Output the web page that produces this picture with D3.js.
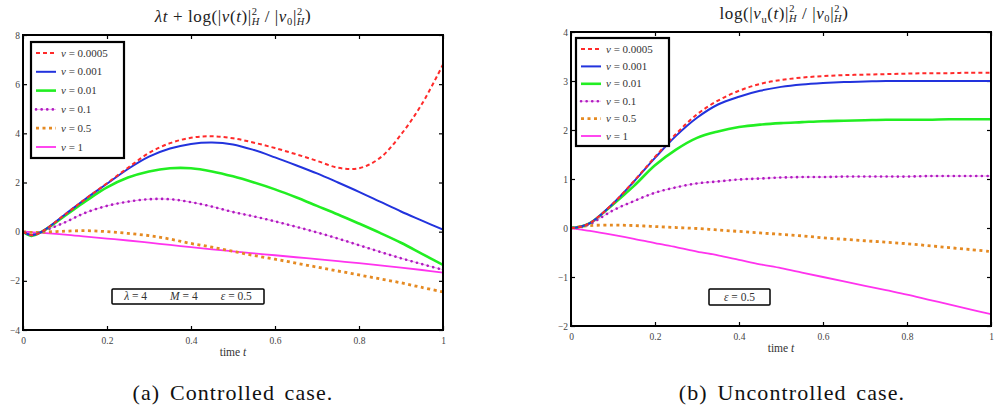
<!DOCTYPE html>
<meta charset="utf-8">
<style>
  body { margin:0; background:#fff; }
  text { font-family: "Liberation Serif", "DejaVu Serif", "Times New Roman", serif !important; }
  .tick text { fill:#444; font-size:9.5px; }
  .frame { fill:none; stroke:#000; stroke-width:2px; }
</style>
<script src="https://d3js.org/d3.v7.min.js"></script>
<svg id="chart" width="1000" height="419"></svg>
<script>
// sample times shared by all curves
var tGrid = [0, 0.02, 0.045, 0.1, 0.15, 0.2, 0.25, 0.3, 0.35, 0.4, 0.45, 0.5, 0.55, 0.6, 0.65, 0.7, 0.75, 0.8, 0.85, 0.9, 0.95, 1];

var nuLabels = ["0.0005", "0.001", "0.01", "0.1", "0.5", "1"];

// (a) controlled case
var ctrl_0005 = [0, -0.15, 0, 0.7, 1.35, 1.97, 2.6, 3.2, 3.6, 3.82, 3.88, 3.8, 3.62, 3.4, 3.15, 2.88, 2.6, 2.58, 3.0, 3.95, 5.2, 6.8];
var ctrl_001  = [0, -0.15, 0, 0.7, 1.35, 1.95, 2.55, 3.05, 3.38, 3.57, 3.63, 3.55, 3.32, 3.02, 2.7, 2.37, 2.0, 1.62, 1.22, 0.82, 0.45, 0.08];
var ctrl_01   = [0, -0.17, 0, 0.65, 1.25, 1.8, 2.2, 2.45, 2.58, 2.58, 2.45, 2.25, 2.0, 1.72, 1.4, 1.05, 0.7, 0.33, -0.05, -0.45, -0.9, -1.35];
var ctrl_1    = [0, -0.12, 0, 0.38, 0.78, 1.05, 1.22, 1.32, 1.32, 1.2, 1.02, 0.8, 0.62, 0.42, 0.2, -0.03, -0.28, -0.55, -0.82, -1.08, -1.32, -1.55];
var ctrl_5    = [0, -0.03, -0.02, 0.02, 0.04, 0.0, -0.07, -0.16, -0.3, -0.48, -0.63, -0.8, -0.97, -1.12, -1.28, -1.44, -1.6, -1.76, -1.92, -2.08, -2.27, -2.45];
var ctrl_10   = [0, -0.02, -0.05, -0.12, -0.2, -0.28, -0.36, -0.45, -0.54, -0.63, -0.72, -0.8, -0.88, -0.96, -1.04, -1.12, -1.2, -1.28, -1.37, -1.46, -1.56, -1.67];

// (b) uncontrolled case
var unc_0005 = [0, 0.02, 0.1, 0.5, 0.96, 1.45, 1.92, 2.32, 2.6, 2.8, 2.94, 3.02, 3.07, 3.1, 3.12, 3.13, 3.14, 3.15, 3.16, 3.16, 3.17, 3.17];
var unc_001  = [0, 0.02, 0.1, 0.5, 0.95, 1.43, 1.88, 2.25, 2.52, 2.68, 2.8, 2.88, 2.93, 2.96, 2.98, 2.99, 3.0, 3.0, 3.0, 3.0, 3.0, 3.0];
var unc_01   = [0, 0.02, 0.1, 0.48, 0.86, 1.28, 1.6, 1.84, 1.97, 2.06, 2.11, 2.14, 2.16, 2.18, 2.19, 2.2, 2.21, 2.21, 2.21, 2.22, 2.22, 2.22];
var unc_1    = [0, 0.01, 0.08, 0.36, 0.55, 0.72, 0.83, 0.91, 0.95, 0.99, 1.01, 1.03, 1.04, 1.04, 1.05, 1.05, 1.05, 1.05, 1.06, 1.06, 1.06, 1.06];
var unc_5    = [0, 0.03, 0.05, 0.06, 0.05, 0.03, 0.01, -0.01, -0.04, -0.07, -0.1, -0.13, -0.16, -0.2, -0.23, -0.26, -0.29, -0.32, -0.36, -0.4, -0.44, -0.48];
var unc_10   = [0, -0.03, -0.06, -0.14, -0.22, -0.31, -0.39, -0.48, -0.56, -0.65, -0.74, -0.82, -0.91, -1.0, -1.09, -1.18, -1.27, -1.36, -1.46, -1.56, -1.66, -1.76];

var xTicks = [0, 0.2, 0.4, 0.6, 0.8, 1];
var yTicksA = [-4, -2, 0, 2, 4, 6, 8];
var yTicksB = [-2, -1, 0, 1, 2, 3, 4];

// line styles per nu, in legend order
var styles = [
  {color:"#ff2a2a", width:2,   dash:"4,3"},
  {color:"#2233dd", width:2,   dash:null},
  {color:"#22ee22", width:2.6, dash:null},
  {color:"#b01cc0", width:2.6, dash:"0.1,5.5", cap:"round", under:"#f2a8f2"},
  {color:"#e58a22", width:2.8, dash:"3,3.5"},
  {color:"#ff33ee", width:1.8, dash:null}
];

var serif = "Liberation Serif, DejaVu Serif, serif";
var svg = d3.select("#chart").attr("font-family", serif);

function drawPanel(p) {
  var x = d3.scaleLinear().domain([0, 1]).range([p.left, p.right]);
  var y = d3.scaleLinear().domain(p.yDomain).range([p.bottom, p.top]);
  var g = svg.append("g");

  var clip = "clip" + p.id;
  g.append("clipPath").attr("id", clip).append("rect")
    .attr("x", p.left).attr("y", p.top)
    .attr("width", p.right - p.left).attr("height", p.bottom - p.top);

  // axes with inward ticks on all four sides
  g.append("g").attr("transform", "translate(0," + p.bottom + ")")
    .call(d3.axisBottom(x).tickValues(xTicks).tickSize(-4).tickPadding(7).tickFormat(d3.format("")))
    .call(function(a){ a.select(".domain").remove(); a.attr("font-family", serif); });
  g.append("g").attr("transform", "translate(0," + p.top + ")")
    .call(d3.axisTop(x).tickValues(xTicks).tickSize(-4).tickFormat(""))
    .call(function(a){ a.select(".domain").remove(); });
  g.append("g").attr("transform", "translate(" + p.left + ",0)")
    .call(d3.axisLeft(y).tickValues(p.yTicks).tickSize(-4).tickPadding(3).tickFormat(function(d){ return d < 0 ? "\u2212" + (-d) : d; }))
    .call(function(a){ a.select(".domain").remove(); a.attr("font-family", serif); });
  g.append("g").attr("transform", "translate(" + p.right + ",0)")
    .call(d3.axisRight(y).tickValues(p.yTicks).tickSize(-4).tickFormat(""))
    .call(function(a){ a.select(".domain").remove(); });
  g.selectAll(".tick line").attr("stroke", "#000").attr("stroke-width", 1.2);

  var line = d3.line()
    .x(function(d, i){ return x(tGrid[i]); })
    .y(function(d){ return y(d); })
    .curve(d3.curveCatmullRom.alpha(0.5));

  var curves = g.append("g").attr("clip-path", "url(#" + clip + ")");
  var order = [5, 4, 3, 2, 1, 0];
  order.forEach(function(k) {
    var s = styles[k];
    if (s.under) {
      curves.append("path").datum(p.series[k]).attr("d", line)
        .attr("fill", "none").attr("stroke", s.under).attr("stroke-width", 1);
    }
    curves.append("path").datum(p.series[k]).attr("d", line)
      .attr("fill", "none").attr("stroke", s.color).attr("stroke-width", s.width)
      .attr("stroke-dasharray", s.dash).attr("stroke-linecap", s.cap || "butt");
  });

  g.append("rect").attr("class", "frame")
    .attr("x", p.left).attr("y", p.top)
    .attr("width", p.right - p.left).attr("height", p.bottom - p.top);

  // legend
  var lg = g.append("g");
  lg.append("rect")
    .attr("x", p.legend[0]).attr("y", p.legend[1])
    .attr("width", p.legend[2]).attr("height", p.legend[3])
    .attr("fill", "#fff").attr("stroke", "#000").attr("stroke-width", 2.2);
  nuLabels.forEach(function(lab, i) {
    var s = styles[i];
    var yy = p.legend[1] + 11 + i * p.legendStep;
    var x0 = p.legend[0] + 5;
    if (s.under) {
      lg.append("line").attr("x1", x0).attr("x2", x0 + 20).attr("y1", yy).attr("y2", yy)
        .attr("stroke", s.under).attr("stroke-width", 1);
    }
    lg.append("line").attr("x1", x0).attr("x2", x0 + 20).attr("y1", yy).attr("y2", yy)
      .attr("stroke", s.color).attr("stroke-width", s.width)
      .attr("stroke-dasharray", s.dash).attr("stroke-linecap", s.cap || "butt");
    var t = lg.append("text").attr("x", x0 + 25).attr("y", yy + 3.5)
      .attr("font-size", 11).attr("fill", "#333");
    t.append("tspan").attr("font-style", "italic").text("\u03bd");
    t.append("tspan").text(" = " + lab);
  });

  // parameter box
  g.append("rect")
    .attr("x", p.note[0]).attr("y", p.note[1]).attr("width", p.note[2]).attr("height", p.note[3])
    .attr("fill", "#fff").attr("stroke", "#000").attr("stroke-width", 1.5).attr("rx", 1);
  var nt = g.append("text")
    .attr("x", p.note[0] + p.note[2] / 2).attr("y", p.note[1] + p.note[3] / 2 + 3.5)
    .attr("text-anchor", "middle").attr("font-size", 11.5).attr("fill", "#333");
  p.noteParts.forEach(function(part) {
    nt.append("tspan").attr("font-style", part[1] ? "italic" : null).text(part[0]);
  });

  // x label
  var xl = g.append("text").attr("x", (p.left + p.right) / 2).attr("y", p.bottom + 26)
    .attr("text-anchor", "middle").attr("font-size", 11.5).attr("fill", "#333");
  xl.append("tspan").text("time ");
  xl.append("tspan").attr("font-style", "italic").text("t");

  // title
  var tt = g.append("text").attr("x", (p.left + p.right) / 2 + p.titleShift).attr("y", p.top - 13)
    .attr("text-anchor", "middle").attr("font-size", 17).attr("letter-spacing", 0.6).attr("fill", "#222");
  p.title.forEach(function(part) {
    var ts = tt.append("tspan").text(part[0]);
    if (part[1] === "i") ts.attr("font-style", "italic");
    if (part[1] === "sup") ts.attr("font-size", 10.5).attr("dy", -7);
    if (part[1] === "sub") ts.attr("font-size", 10.5).attr("font-style", "italic").attr("dx", -6).attr("dy", 10);
    if (part[1] === "subn") ts.attr("font-size", 10.5).attr("dy", 3.5);
    if (part[1] === "back") ts.attr("dy", part[2]);
  });

  // caption
  svg.append("text").attr("x", p.captionX).attr("y", 400)
    .attr("text-anchor", "middle").attr("font-size", 22)
    .attr("letter-spacing", 1.1).attr("word-spacing", 3).attr("fill", "#111")
    .text(p.caption);
}

drawPanel({
  id: "a", left: 23, right: 443, top: 35, bottom: 330,
  yDomain: [-4, 8], yTicks: yTicksA,
  series: [ctrl_0005, ctrl_001, ctrl_01, ctrl_1, ctrl_5, ctrl_10],
  legend: [31, 42, 93, 116], legendStep: 18.8,
  note: [112, 289, 152, 15],
  noteParts: [["\u03bb", true], [" = 4\u2003\u2003", false], ["M", true], [" = 4\u2003\u2003", false], ["\u03b5", true], [" = 0.5", false]],
  titleShift: 0,
  title: [["\u03bbt", "i"], [" + log(|", ""], ["v", "i"], ["(", ""], ["t", "i"], [")|", ""],
          ["2", "sup"], ["H", "sub"], [" / |", "back", -3.5], ["v", "i"], ["0", "subn"], ["|", "back", -3.5],
          ["2", "sup"], ["H", "sub"], [")", "back", -3.5]],
  caption: "(a) Controlled case.", captionX: 233
});

drawPanel({
  id: "b", left: 571, right: 991, top: 32, bottom: 326,
  yDomain: [-2, 4], yTicks: yTicksB,
  series: [unc_0005, unc_001, unc_01, unc_1, unc_5, unc_10],
  legend: [576, 38, 93, 108], legendStep: 17.4,
  note: [709, 289, 61, 16],
  noteParts: [["\u03b5", true], [" = 0.5", false]],
  titleShift: 3,
  title: [["log(|", ""], ["v", "i"], ["u", "subn"], ["(", "back", -3.5], ["t", "i"], [")|", ""],
          ["2", "sup"], ["H", "sub"], [" / |", "back", -3.5], ["v", "i"], ["0", "subn"], ["|", "back", -3.5],
          ["2", "sup"], ["H", "sub"], [")", "back", -3.5]],
  caption: "(b) Uncontrolled case.", captionX: 792
});
</script>
